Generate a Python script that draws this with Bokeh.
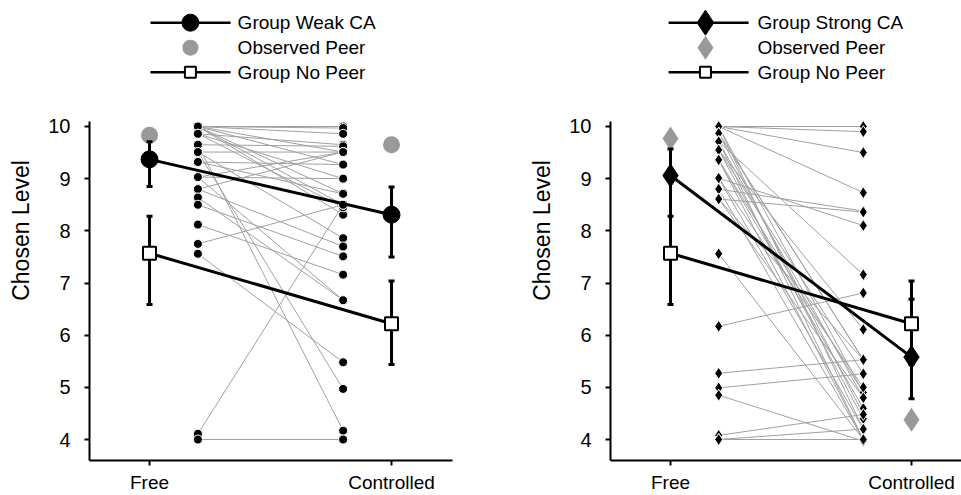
from bokeh.plotting import figure
from bokeh.layouts import row
from bokeh.models import Range1d, FixedTicker
from bokeh.embed import file_html
from bokeh.resources import INLINE
from bokeh.core.properties import value

FONT = "'Liberation Sans', Arial, sans-serif"

CONDITIONS = ["Free", "Controlled"]
Y_TICKS = [4, 5, 6, 7, 8, 9, 10]

# ---- individual participants (Free -> Controlled) ----
weak_free = [10.0, 10.0, 10.0, 10.0, 10.0, 10.0, 10.0, 10.0, 9.86, 9.86, 9.86,
             9.65, 9.65, 9.51, 9.51, 9.51, 9.32, 9.32, 9.03, 9.03, 9.03,
             8.80, 8.80, 8.64, 8.50, 8.12, 7.75, 7.56, 4.11, 4.00]
weak_ctrl = [10.0, 9.97, 9.51, 9.27, 8.71, 8.50, 8.31, 9.86, 9.65, 9.00, 8.45,
             9.62, 4.17, 9.51, 7.86, 4.97, 9.27, 8.71, 9.00, 9.51, 6.67,
             9.51, 7.70, 6.67, 7.51, 7.16, 8.50, 5.48, 8.50, 4.00]

strong_free = [10.0, 10.0, 10.0, 10.0, 10.0, 10.0, 9.87, 9.87, 9.87, 9.71, 9.71, 9.71,
               9.55, 9.55, 9.55, 9.36, 9.36, 9.36, 9.01, 9.01, 9.01, 8.80, 8.80,
               8.61, 8.61, 8.61, 7.56, 6.17, 5.27, 4.99, 4.85, 4.08, 4.00, 4.00]
strong_ctrl = [10.0, 9.90, 9.50, 8.73, 4.90, 4.20, 5.53, 5.53, 4.48, 7.16, 4.80, 4.00,
               5.26, 4.40, 6.11, 4.90, 4.00, 4.60, 8.10, 4.20, 5.00, 8.38, 4.00,
               8.36, 4.80, 5.53, 4.00, 6.81, 5.53, 5.26, 3.97, 4.48, 4.20, 4.00]

# ---- group summaries (Free, Controlled) ----
weak_mean = [9.37, 8.31]
weak_lo = [8.85, 7.50]
weak_hi = [9.71, 8.84]

strong_mean = [9.06, 5.58]
strong_lo = [7.48, 4.78]
strong_hi = [9.57, 6.69]

nopeer_mean = [7.57, 6.22]
nopeer_lo = [6.59, 5.44]
nopeer_hi = [8.28, 7.04]

peer_weak = [9.83, 9.65]
peer_strong = [9.77, 4.38]

legend_weak = ["Group Weak CA", "Observed Peer", "Group No Peer"]
legend_strong = ["Group Strong CA", "Observed Peer", "Group No Peer"]

X_GROUP = [0, 1]
X_INDIV = [0.2, 0.8]
GRAY = "#a0a0a0"
PEER_GRAY = "#999999"

# legend layout (in data units of the panel)
LEG_ROWS = [11.99, 11.51, 11.04]
Y_LOW, Y_TOP, Y_AXIS_TOP = 3.598, 12.415, 10.1


def panel(free, ctrl, mean, lo, hi, peer, marker, msize, psize, ind_size,
          labels, width, bl, br, x_start, x_end, leg_x0, leg_x1, leg_m, leg_t,
          leg_msize, leg_psize):
    p = figure(width=width, height=495, x_range=Range1d(x_start, x_end),
               y_range=Range1d(Y_LOW, Y_TOP), output_backend="svg",
               toolbar_location=None, min_border_left=bl, min_border_right=br,
               min_border_top=0, min_border_bottom=35)
    p.outline_line_color = None
    p.grid.visible = False
    p.background_fill_color = "white"

    # individual lines and points
    p.segment(x0=[X_INDIV[0]] * len(free), y0=free, x1=[X_INDIV[1]] * len(ctrl), y1=ctrl,
              line_color=GRAY, line_width=1)
    p.scatter([X_INDIV[0]] * len(free), free, marker=marker, size=ind_size,
              fill_color="black", line_color="white", line_width=1)
    p.scatter([X_INDIV[1]] * len(ctrl), ctrl, marker=marker, size=ind_size,
              fill_color="black", line_color="white", line_width=1)

    # observed peer
    p.scatter(X_GROUP, peer, marker=marker, size=psize, fill_color=PEER_GRAY,
              line_color=None)

    # group mean lines
    p.line(X_GROUP, nopeer_mean, line_color="black", line_width=3)
    p.line(X_GROUP, mean, line_color="black", line_width=3)

    # error bars
    for lo_, hi_ in ((nopeer_lo, nopeer_hi), (lo, hi)):
        p.segment(x0=X_GROUP, y0=lo_, x1=X_GROUP, y1=hi_, line_color="black", line_width=3)
        p.scatter(X_GROUP, lo_, marker="dash", size=6, line_color="black", line_width=3)
        p.scatter(X_GROUP, hi_, marker="dash", size=6, line_color="black", line_width=3)

    p.scatter(X_GROUP, nopeer_mean, marker="square", size=13, fill_color="white",
              line_color="black", line_width=2)
    p.scatter(X_GROUP, mean, marker=marker, size=msize, fill_color="black",
              line_color="black", line_width=1)

    # legend
    p.segment(x0=[leg_x0, leg_x0], y0=[LEG_ROWS[0], LEG_ROWS[2]],
              x1=[leg_x1, leg_x1], y1=[LEG_ROWS[0], LEG_ROWS[2]],
              line_color="black", line_width=2.5)
    p.scatter([leg_m], [LEG_ROWS[0]], marker=marker, size=leg_msize, fill_color="black",
              line_color="black")
    p.scatter([leg_m], [LEG_ROWS[1]], marker=marker, size=leg_psize, fill_color=PEER_GRAY,
              line_color=None)
    p.scatter([leg_m], [LEG_ROWS[2]], marker="square", size=11, fill_color="white",
              line_color="black", line_width=2)
    p.text(x=[leg_t] * 3, y=LEG_ROWS, text=labels, text_font=value(FONT),
           text_font_size="19px", text_baseline="middle", text_align="left",
           text_color="black")

    # axes
    p.yaxis.bounds = (Y_LOW, Y_AXIS_TOP)
    p.yaxis.ticker = FixedTicker(ticks=Y_TICKS)
    p.xaxis.ticker = FixedTicker(ticks=X_GROUP)
    p.xaxis.major_label_overrides = {0: CONDITIONS[0], 1: CONDITIONS[1]}
    p.yaxis.axis_label = "Chosen Level"
    for ax in (p.xaxis, p.yaxis):
        ax.axis_line_width = 2
        ax.axis_line_color = "black"
        ax.major_tick_line_width = 2
        ax.major_tick_line_color = "black"
        ax.major_tick_in = 0
        ax.major_tick_out = 5
        ax.minor_tick_line_color = None
        ax.major_label_text_font = FONT
        ax.major_label_text_color = "black"
        ax.axis_label_text_font = FONT
        ax.axis_label_text_font_size = "23px"
        ax.axis_label_text_font_style = "normal"
        ax.axis_label_text_color = "black"
    p.yaxis.major_label_text_font_size = "20px"
    p.xaxis.major_label_text_font_size = "19px"
    p.yaxis.major_label_standoff = 14
    p.yaxis.axis_label_standoff = 11
    p.xaxis.major_label_standoff = 6
    return p


left = panel(weak_free, weak_ctrl, weak_mean, weak_lo, weak_hi, peer_weak,
             "circle", 17, 17, 9, legend_weak, 480, 89, 28, -0.248, 1.252,
             0.004, 0.335, 0.169, 0.364, 17, 16)
right = panel(strong_free, strong_ctrl, strong_mean, strong_lo, strong_hi, peer_strong,
              "diamond", 23, 24, 12, legend_strong, 481, 130, 0, -0.249, 1.2075,
              -0.008, 0.324, 0.145, 0.361, 25, 24)

layout = row(left, right)
open("out.html", "w").write(file_html(layout, INLINE))
